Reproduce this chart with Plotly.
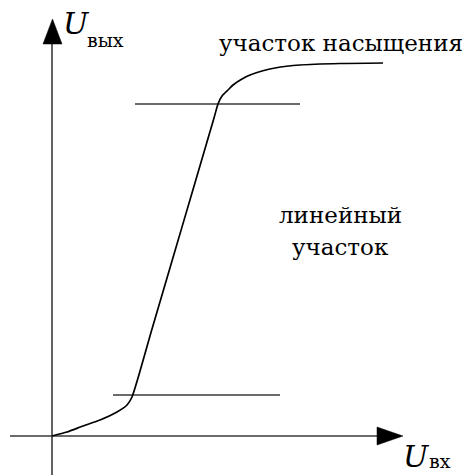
import plotly.graph_objects as go

# Transfer characteristic U_out = f(U_in), arbitrary units (origin at axis crossing)
u_in = [0.0, 1.5, 3.1, 4.8, 6.5, 7.5, 8.0, 10.0, 12.0, 14.0, 16.2, 16.6, 17.0, 17.6, 18.1, 19.0, 19.8, 21.0, 22.3, 24.8, 28.8, 33.1]
u_out = [0.0, 0.4, 1.0, 1.6, 2.4, 3.1, 3.9, 10.7, 17.5, 24.3, 31.8, 33.2, 34.0, 34.6, 35.1, 35.7, 36.1, 36.5, 36.8, 37.1, 37.25, 37.3]

# Boundaries of the linear region
lower_level = 4.1
lower_span = [6.1, 22.8]
upper_level = 33.2
upper_span = [8.3, 24.8]

# Axis extents
x_axis_span = [-4.2, 32.6]
y_axis_span = [-4.0, 39.3]

X_RANGE = [-5.2, 41.5]
Y_RANGE = [-3.9, 43.6]

AXIS_COLOR = "#3a3a3a"
SERIF = "DejaVu Serif"

fig = go.Figure()

# Axes lines
fig.add_trace(go.Scatter(x=x_axis_span, y=[0, 0], mode="lines",
                         line=dict(color=AXIS_COLOR, width=1.6), hoverinfo="skip"))
fig.add_trace(go.Scatter(x=[0, 0], y=y_axis_span, mode="lines",
                         line=dict(color=AXIS_COLOR, width=1.6), hoverinfo="skip"))

# Arrow heads
fig.add_trace(go.Scatter(x=[32.5, 35.1, 32.5, 32.5], y=[0.9, 0, -0.9, 0.9], mode="lines",
                         fill="toself", fillcolor="black", line=dict(color="black", width=0.5),
                         hoverinfo="skip"))
fig.add_trace(go.Scatter(x=[-0.9, 0.05, 1.0, -0.9], y=[39.2, 41.7, 39.2, 39.2], mode="lines",
                         fill="toself", fillcolor="black", line=dict(color="black", width=0.5),
                         hoverinfo="skip"))

# Linear region boundaries
fig.add_trace(go.Scatter(x=lower_span, y=[lower_level] * 2, mode="lines",
                         line=dict(color=AXIS_COLOR, width=1.6), hoverinfo="skip"))
fig.add_trace(go.Scatter(x=upper_span, y=[upper_level] * 2, mode="lines",
                         line=dict(color=AXIS_COLOR, width=1.6), hoverinfo="skip"))

# Characteristic curve
fig.add_trace(go.Scatter(x=u_in, y=u_out, mode="lines",
                         line=dict(color="black", width=1.7, shape="spline", smoothing=0.6),
                         hoverinfo="skip"))

def label(x, y, text, size, xanchor="left", yanchor="middle", italic=False):
    fig.add_annotation(x=x, y=y, xref="x", yref="y", text=text, showarrow=False,
                       xanchor=xanchor, yanchor=yanchor, borderpad=0,
                       font=dict(family=SERIF, size=size, color="black",
                                 style="italic" if italic else "normal"))

# Axis labels
label(1.0, 41.3, "U", 30, italic=True)
label(3.4, 39.6, "вых", 19)
label(35.0, -2.0, "U", 30, italic=True)
label(37.6, -2.45, "вх", 19)

# Region captions
label(16.6, 39.3, "участок насыщения", 23)
label(28.8, 22.1, "линейный", 23, xanchor="center")
label(28.8, 18.9, "участок", 23, xanchor="center")

fig.update_layout(
    width=467, height=475,
    margin=dict(l=0, r=0, t=0, b=0),
    paper_bgcolor="white", plot_bgcolor="white",
    showlegend=False,
    xaxis=dict(range=X_RANGE, visible=False, fixedrange=True),
    yaxis=dict(range=Y_RANGE, visible=False, fixedrange=True),
)

fig.write_html("out.html")
